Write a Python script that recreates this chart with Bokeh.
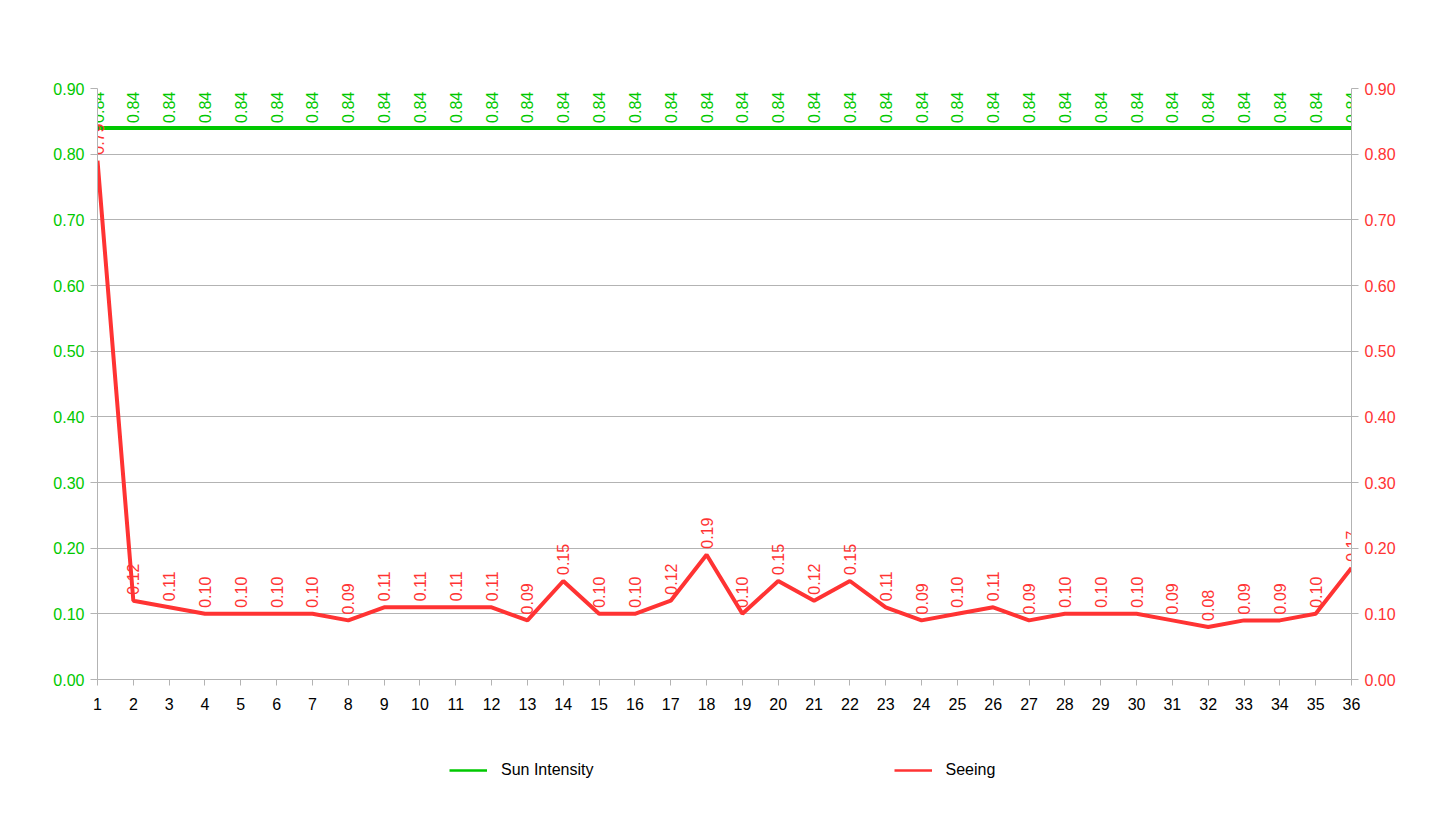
import math
from bokeh.plotting import figure
from bokeh.layouts import column
from bokeh.models import (Range1d, LinearAxis, FixedTicker, PrintfTickFormatter,
                          ColumnDataSource, Legend, LegendItem)
from bokeh.core.properties import value
from bokeh.embed import file_html
from bokeh.resources import INLINE

# ---- data ----
categories = list(range(1, 37))
category_labels = [str(c) for c in categories]
sun_intensity = [0.84] * 36
seeing = [0.79, 0.12, 0.11, 0.10, 0.10, 0.10, 0.10, 0.09, 0.11, 0.11, 0.11, 0.11,
          0.09, 0.15, 0.10, 0.10, 0.12, 0.19, 0.10, 0.15, 0.12, 0.15, 0.11, 0.09,
          0.10, 0.11, 0.09, 0.10, 0.10, 0.10, 0.09, 0.08, 0.09, 0.09, 0.10, 0.17]
y_ticks = [0.0, 0.1, 0.2, 0.3, 0.4, 0.5, 0.6, 0.7, 0.8, 0.9]
series_names = ["Sun Intensity", "Seeing"]

GREEN = "#00c800"
RED = "#ff3333"
GRID = "#b3b3b3"
FONT = "Liberation Sans"

p = figure(frame_width=1254, frame_height=591,
           min_border_left=97, min_border_right=65, min_border_top=88, min_border_bottom=50,
           x_range=Range1d(1, 36), y_range=Range1d(0, 0.9),
           output_backend="svg", toolbar_location=None,
           x_axis_location=None, y_axis_location=None)
p.outline_line_color = None
p.background_fill_color = "white"
p.border_fill_color = "white"
p.extra_y_ranges = {"right": Range1d(0, 0.9)}

# axes
def style_axis(ax, color):
    ax.ticker = FixedTicker(ticks=y_ticks)
    ax.formatter = PrintfTickFormatter(format="%.2f")
    ax.axis_line_color = GRID
    ax.major_tick_line_color = GRID
    ax.major_tick_out = 7
    ax.major_tick_in = 0
    ax.minor_tick_line_color = None
    ax.major_label_text_color = color
    ax.major_label_text_font = FONT
    ax.major_label_text_font_size = "16px"
    ax.major_label_standoff = 6

left = LinearAxis()
style_axis(left, GREEN)
p.add_layout(left, "left")
right = LinearAxis(y_range_name="right")
style_axis(right, RED)
p.add_layout(right, "right")

bottom = LinearAxis()
bottom.ticker = FixedTicker(ticks=categories)
bottom.major_label_overrides = {c: l for c, l in zip(categories, category_labels)}
bottom.axis_line_color = GRID
bottom.major_tick_line_color = GRID
bottom.major_tick_out = 6
bottom.major_tick_in = 0
bottom.minor_tick_line_color = None
bottom.major_label_text_color = "black"
bottom.major_label_text_font = FONT
bottom.major_label_text_font_size = "16px"
bottom.major_label_standoff = 12
p.add_layout(bottom, "below")

p.xgrid.visible = False
p.ygrid.grid_line_color = GRID
p.ygrid.ticker = FixedTicker(ticks=y_ticks)

src = ColumnDataSource(dict(x=categories, sun=sun_intensity, seeing=seeing,
                            sun_lbl=["%.2f" % v for v in sun_intensity],
                            see_lbl=["%.2f" % v for v in seeing]))

p.line("x", "sun", source=src, line_color=GREEN, line_width=4)
p.line("x", "seeing", source=src, line_color=RED, line_width=4)

p.text("x", "sun", text="sun_lbl", source=src, angle=math.pi / 2,
       text_align="left", text_baseline="middle", y_offset=-5,
       text_color=GREEN, text_font=value(FONT), text_font_size="16px")
p.text("x", "seeing", text="see_lbl", source=src, angle=math.pi / 2,
       text_align="left", text_baseline="middle", y_offset=-6,
       text_color=RED, text_font=value(FONT), text_font_size="16px")

# ---- legend strip below the chart (frame aligned with the chart's frame) ----
lf = figure(width=1416, height=85, x_range=Range1d(1, 36), y_range=Range1d(10, 95),
            min_border_left=97, min_border_right=65, min_border_top=0, min_border_bottom=0,
            output_backend="svg", toolbar_location=None,
            x_axis_location=None, y_axis_location=None)
lf.outline_line_color = None
lf.grid.visible = False
lf.background_fill_color = "white"
lf.border_fill_color = "white"

# same series drawn here only to provide legend swatches (out of this strip's range)
lg_sun = lf.line("x", "sun", source=src, line_color=GREEN, line_width=2.5)
lg_see = lf.line("x", "seeing", source=src, line_color=RED, line_width=2.5)

legend = Legend(items=[LegendItem(label=series_names[0], renderers=[lg_sun]),
                       LegendItem(label=series_names[1], renderers=[lg_see])],
                orientation="horizontal", location=(352, 34),
                margin=0, padding=0, spacing=300,
                border_line_color=None, background_fill_alpha=0,
                glyph_width=38, glyph_height=20, label_standoff=14,
                label_text_font=FONT, label_text_font_size="16px", label_text_color="black")
lf.add_layout(legend, "center")

layout = column(p, lf, spacing=0)
open("out.html", "w").write(file_html(layout, INLINE))
